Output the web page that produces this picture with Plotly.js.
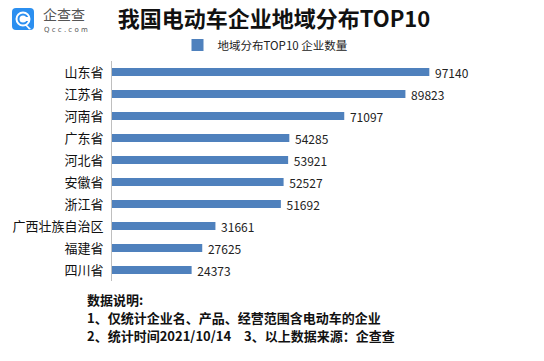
<!DOCTYPE html>
<html>
<head>
<meta charset="utf-8">
<script src="https://cdn.plot.ly/plotly-3.0.1.min.js"></script>
<style>html,body{margin:0;padding:0;background:#fff;}#chart{width:544px;height:361px;}</style>
</head>
<body>
<div id="chart"></div>
<script>
const categories = ["山东省","江苏省","河南省","广东省","河北省","安徽省","浙江省","广西壮族自治区","福建省","四川省"];
const values = [97140, 89823, 71097, 54285, 53921, 52527, 51692, 31661, 27625, 24373];
const seriesName = "地域分布TOP10 企业数量";
const titleText = "我国电动车企业地域分布TOP10";
const noteLines = ["数据说明:", "1、仅统计企业名、产品、经营范围含电动车的企业", "2、统计时间2021/10/14　3、以上数据来源：企查查"];

const FONT = "'Noto Sans CJK SC', 'Microsoft YaHei', sans-serif";
const BAR = "#4f81bd";

// plot area in pixels
const L = 112, R = 40, T = 61, B = 80, W = 544, H = 361;
const PW = W - L - R, PH = H - T - B;
const px = x => (x - L) / PW;
const py = y => (H - B - y) / PH;

const trace = {
  type: "bar",
  orientation: "h",
  y: categories,
  x: values,
  name: seriesName,
  marker: {color: BAR},
  text: values.map(v => " " + v),
  textposition: "outside",
  constraintext: "none",
  cliponaxis: false,
  textfont: {family: FONT, size: 12, color: "#222"},
  hoverinfo: "none"
};

const noteY = [299.5, 317.5, 335.5];
const annotations = noteLines.map((s, i) => ({
  xref:"paper", yref:"paper", x:px(86), y:py(noteY[i]), xanchor:"left", yanchor:"middle", align:"left",
  borderpad:0, text:"<b>"+s+"</b>", showarrow:false, font:{family:FONT, size:13, color:"#111"}
}));
annotations.push(
  {xref:"paper", yref:"paper", x:px(42), y:py(14), xanchor:"left", yanchor:"middle", borderpad:0,
   text:"企查查", showarrow:false, font:{family:FONT, size:14, color:"#555"}},
  {xref:"paper", yref:"paper", x:px(43), y:py(29.5), xanchor:"left", yanchor:"middle", borderpad:0,
   text:"Q c c . c o m", showarrow:false, font:{family:"DejaVu Sans", size:7, color:"#555"}}
);

const shapes = [
  {type:"path", xref:"paper", yref:"paper", layer:"above", fillcolor:"#2b8ff0", line:{width:0},
   path:`M ${px(16)} ${py(8)} L ${px(30)} ${py(8)} Q ${px(34)} ${py(8)} ${px(34)} ${py(12)} L ${px(34)} ${py(26)} Q ${px(34)} ${py(30)} ${px(30)} ${py(30)} L ${px(16)} ${py(30)} Q ${px(12)} ${py(30)} ${px(12)} ${py(26)} L ${px(12)} ${py(12)} Q ${px(12)} ${py(8)} ${px(16)} ${py(8)} Z`},
  {type:"circle", xref:"paper", yref:"paper", layer:"above", x0:px(15.5), x1:px(30.5), y0:py(26.5), y1:py(11.5),
   fillcolor:"#ffffff", line:{width:0}},
  {type:"circle", xref:"paper", yref:"paper", layer:"above", x0:px(17.5), x1:px(28.5), y0:py(24.5), y1:py(13.5),
   fillcolor:"#2b8ff0", line:{width:0}},
  {type:"circle", xref:"paper", yref:"paper", layer:"above", x0:px(19.5), x1:px(26.5), y0:py(22.5), y1:py(15.5),
   fillcolor:"#ffffff", line:{width:0}},
  {type:"rect", xref:"paper", yref:"paper", layer:"above", x0:px(24), x1:px(29), y0:py(21), y1:py(17),
   fillcolor:"#ffffff", line:{width:0}},
  {type:"path", xref:"paper", yref:"paper", layer:"above", fillcolor:"#ffffff", line:{width:0},
   path:`M ${px(26)} ${py(24)} L ${px(31)} ${py(29)} L ${px(29)} ${py(29.5)} L ${px(25)} ${py(25)} Z`}
];

const layout = {
  width: W, height: H,
  margin: {l: L, r: R, t: T, b: B},
  paper_bgcolor: "#fff", plot_bgcolor: "#fff",
  title: {text: "<b>"+titleText+"</b>", font:{family:FONT, size:22, color:"#111"},
          x: 274/544, xanchor:"center", y: 1-19/361, yanchor:"middle", xref:"container", yref:"container"},
  showlegend: true,
  legend: {orientation:"h", xref:"paper", yref:"paper", x:px(265), xanchor:"center",
           y:py(45), yanchor:"middle", font:{family:FONT, size:11.5, color:"#222"},
           itemwidth:30, bgcolor:"rgba(0,0,0,0)"},
  bargap: 0.63,
  xaxis: {range:[0, 120000], showgrid:false, zeroline:false, showticklabels:false, ticks:"", showline:false, fixedrange:true},
  yaxis: {autorange:"reversed", showgrid:false, zeroline:false, showline:true, linecolor:"#bfbfbf", linewidth:1,
          ticks:"", ticklabelstandoff: 5, tickfont:{family:FONT, size:13, color:"#111"}, fixedrange:true},
  annotations: annotations,
  shapes: shapes
};

Plotly.newPlot("chart", [trace], layout, {staticPlot:true, displayModeBar:false});
</script>
</body>
</html>
